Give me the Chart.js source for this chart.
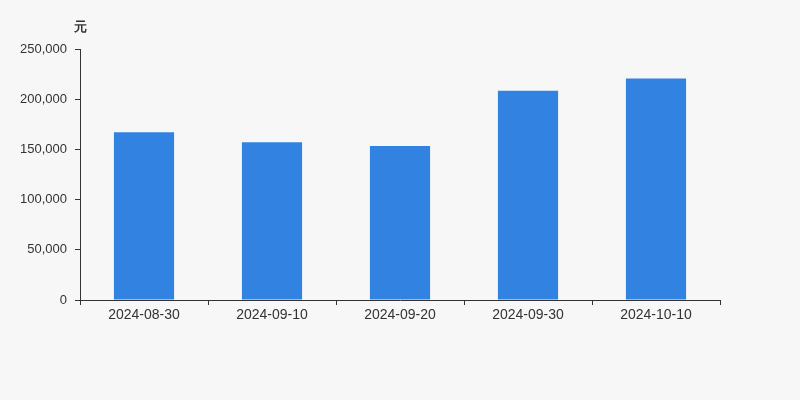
<!DOCTYPE html>
<html>
<head>
<meta charset="utf-8">
<script src="https://cdn.jsdelivr.net/npm/chart.js@4/dist/chart.umd.min.js"></script>
<style>
  html, body { margin: 0; padding: 0; background: #f7f7f7; }
  #wrap { width: 800px; height: 400px; }
</style>
</head>
<body>
<div id="wrap"><canvas id="chart" width="800" height="400"></canvas></div>
<script>
const dates = ['2024-08-30', '2024-09-10', '2024-09-20', '2024-09-30', '2024-10-10'];
const amounts = [167000, 157000, 153500, 208500, 220500];
const yTicks = [0, 50000, 100000, 150000, 200000, 250000];
const unitLabel = '元';

const textColor = '#333';
const barColor = '#3282e2';

function formatNumber(v) {
  return Number(v).toLocaleString('en-US');
}

// draws the unit label above the y axis
const unitPlugin = {
  id: 'unitLabel',
  afterDraw(chart) {
    const ctx = chart.ctx;
    const x = chart.scales.y.right;
    ctx.save();
    ctx.font = 'bold 13px "Liberation Sans", Arial, sans-serif';
    ctx.fillStyle = textColor;
    ctx.textAlign = 'center';
    ctx.textBaseline = 'middle';
    ctx.fillText(unitLabel, x, 27);
    ctx.restore();
  }
};

new Chart(document.getElementById('chart').getContext('2d'), {
  type: 'bar',
  data: {
    labels: dates,
    datasets: [{
      data: amounts,
      backgroundColor: barColor,
      borderWidth: 0,
      barPercentage: 0.47,
      categoryPercentage: 1
    }]
  },
  options: {
    responsive: false,
    animation: false,
    layout: { padding: { left: 0, right: 80, top: 49, bottom: 0 } },
    plugins: {
      legend: { display: false },
      tooltip: { enabled: false }
    },
    scales: {
      x: {
        afterFit: s => { s.height = 100; },
        grid: { offset: true, drawOnChartArea: false, drawTicks: true, tickLength: 5, color: textColor },
        border: { color: textColor, width: 1 },
        ticks: { color: textColor, padding: 2, font: { size: 14, family: '"Liberation Sans", Arial, sans-serif' } }
      },
      y: {
        min: 0,
        max: 250000,
        afterFit: s => { s.width = 80; },
        afterBuildTicks: s => { s.ticks = yTicks.map(v => ({ value: v })); },
        grid: { drawOnChartArea: false, drawTicks: true, tickLength: 5, color: textColor },
        border: { color: textColor, width: 1 },
        ticks: {
          color: textColor,
          padding: 8,
          font: { size: 13, family: '"Liberation Sans", Arial, sans-serif' },
          callback: v => formatNumber(v)
        }
      }
    }
  },
  plugins: [unitPlugin]
});
</script>
</body>
</html>
